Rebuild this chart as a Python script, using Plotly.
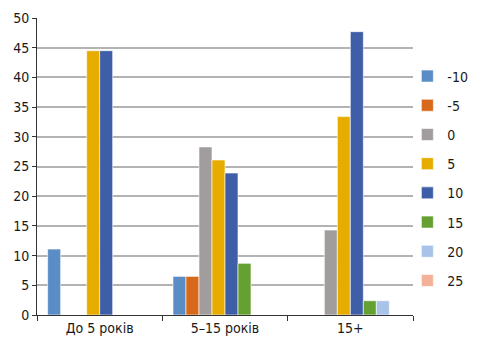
import plotly.graph_objects as go

categories = ["До 5 років", "5–15 років", "15+"]
series_names = ["-10", "-5", "0", "5", "10", "15", "20", "25"]
values = {
    "-10": [11.1, 6.5, None],
    "-5": [None, 6.5, None],
    "0": [None, 28.3, 14.3],
    "5": [44.5, 26.1, 33.4],
    "10": [44.5, 23.9, 47.7],
    "15": [None, 8.7, 2.4],
    "20": [None, None, 2.4],
    "25": [None, None, None],
}
colors = ["#5A8DC6", "#D8691C", "#A19D9C", "#E6AD00", "#3F5EA8", "#65A033", "#A7C3E8", "#F3B199"]
y_ticks = [0, 5, 10, 15, 20, 25, 30, 35, 40, 45, 50]

fig = go.Figure()
for name, col in zip(series_names, colors):
    fig.add_trace(go.Bar(
        x=categories, y=values[name], name=name, legendgroup=name,
        marker=dict(color=col, line=dict(color="white", width=0.6)),
    ))

font_family = "DejaVu Sans Condensed, Liberation Sans Narrow, sans-serif"
fig.update_layout(
    width=478, height=354,
    margin=dict(l=37, r=65, t=18, b=39, autoexpand=False),
    paper_bgcolor="white", plot_bgcolor="white",
    barmode="group", bargap=0.17, bargroupgap=0,
    font=dict(family=font_family, size=14, color="#1a1a1a"),
    legend=dict(
        x=0.985, y=0.857, xanchor="left", yanchor="top",
        traceorder="grouped", tracegroupgap=8,
        font=dict(size=14), itemwidth=30, bgcolor="rgba(0,0,0,0)",
    ),
    xaxis=dict(
        type="category", showline=True, linecolor="#333", linewidth=1,
        ticks="outside", tickson="boundaries", ticklen=5, tickcolor="#333",
        showgrid=False, tickfont=dict(size=14),
    ),
    yaxis=dict(
        range=[0, 50], tickvals=y_ticks, showline=True, linecolor="#333", linewidth=1,
        ticks="outside", ticklen=4, tickcolor="#333",
        showgrid=True, gridcolor="#B3B3B3", gridwidth=1.5,
        zeroline=False, tickfont=dict(size=14),
    ),
)
fig.write_html("out.html")
